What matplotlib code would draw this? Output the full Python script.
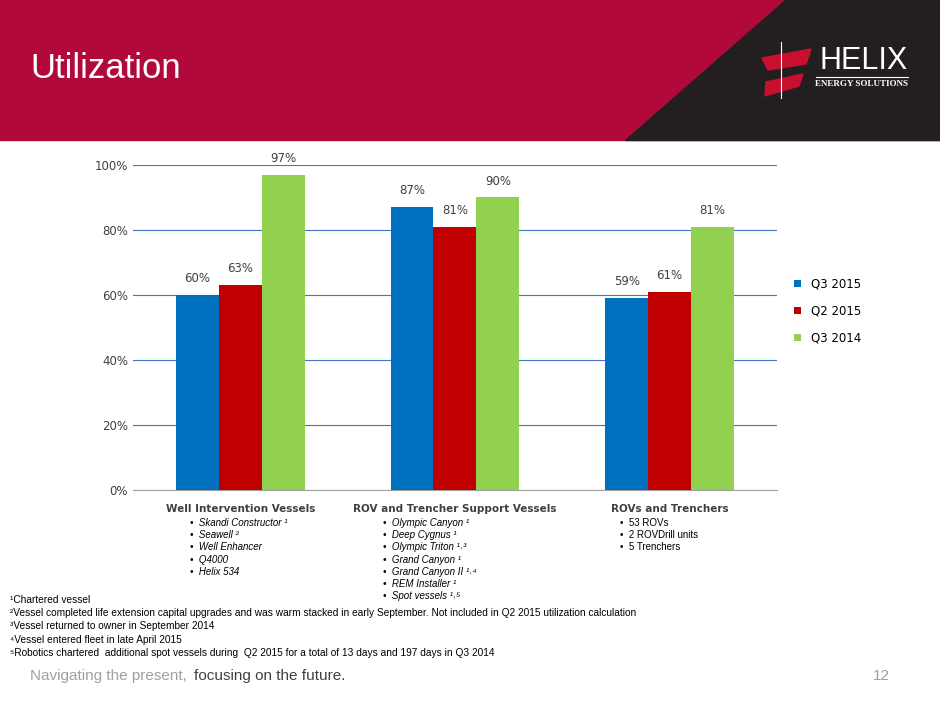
import matplotlib.pyplot as plt
from matplotlib.patches import Polygon, Rectangle
import numpy as np

categories = ["Well Intervention Vessels", "ROV and Trencher Support Vessels", "ROVs and Trenchers"]
series = ["Q3 2015", "Q2 2015", "Q3 2014"]
values = {
    "Q3 2015": [60, 87, 59],
    "Q2 2015": [63, 81, 61],
    "Q3 2014": [97, 90, 81],
}
colors = {"Q3 2015": "#0070C0", "Q2 2015": "#C00000", "Q3 2014": "#92D050"}
yticks = [0, 20, 40, 60, 80, 100]

bullets = [
    ["Skandi Constructor ¹", "Seawell ²", "Well Enhancer", "Q4000", "Helix 534"],
    ["Olympic Canyon ¹", "Deep Cygnus ¹", "Olympic Triton ¹˒³", "Grand Canyon ¹",
     "Grand Canyon II ¹˒⁴", "REM Installer ¹", "Spot vessels ¹˒⁵"],
    ["53 ROVs", "2 ROVDrill units", "5 Trenchers"],
]
italic = [True, True, False]
footnotes = [
    "¹Chartered vessel",
    "²Vessel completed life extension capital upgrades and was warm stacked in early September. Not included in Q2 2015 utilization calculation",
    "³Vessel returned to owner in September 2014",
    "⁴Vessel entered fleet in late April 2015",
    "⁵Robotics chartered  additional spot vessels during  Q2 2015 for a total of 13 days and 197 days in Q3 2014",
]

FAM = ["Liberation Sans", "DejaVu Sans"]
W, H = 940, 705
fig = plt.figure(figsize=(9.4, 7.05), dpi=100)
bg = fig.add_axes([0, 0, 1, 1])
bg.set_xlim(0, W)
bg.set_ylim(H, 0)
bg.axis("off")
bg.add_patch(Rectangle((0, 0), W, 140, color="#B0093A"))
bg.add_patch(Polygon([(785, 0), (W, 0), (W, 140), (625, 140)], color="#231F20"))
bg.text(30, 68, "Utilization", fontsize=25, color="white", va="center", family=FAM)
bg.text(908, 76, "HELIX", fontsize=22, color="white", ha="right", va="bottom", family=FAM)
bg.plot([816, 908], [77, 77], color="white", lw=0.8)
bg.text(908, 84, "ENERGY SOLUTIONS", fontsize=6.5, color="white", ha="right", va="center",
        weight="bold", family="Liberation Serif")
bg.plot([781, 781], [42, 98], color="white", lw=0.8)
bg.add_patch(Polygon([(762, 58), (811, 49), (806, 64), (768, 70)], color="#C8102E"))
bg.add_patch(Polygon([(766, 82), (803, 74), (799, 86), (765, 96)], color="#C8102E"))

ax = fig.add_axes([0.1415, 0.305, 0.685, 0.461])
x = np.arange(len(categories))
bw = 0.2
for i, s in enumerate(series):
    pos = x + (i - 1) * bw
    ax.bar(pos, values[s], width=bw, color=colors[s], label=s, zorder=3)
    for px, v in zip(pos, values[s]):
        ax.text(px, v + 3, f"{v}%", ha="center", va="bottom", fontsize=8.5, color="#404040")
ax.set_xlim(-0.5, 2.5)
ax.set_ylim(0, 100)
ax.set_yticks(yticks)
ax.set_yticklabels([f"{t}%" for t in yticks], fontsize=8.5, color="#404040")
ax.set_xticks(x)
ax.set_xticklabels(categories, fontsize=7.5, weight="bold", color="#404040")
ax.tick_params(axis="x", length=0, pad=10)
ax.tick_params(axis="y", length=0)
ax.grid(axis="y", color="#4472C4", lw=0.8, zorder=0)
for sp in ["top", "right", "left"]:
    ax.spines[sp].set_visible(False)
ax.spines["bottom"].set_color("#A0A0A0")
ax.legend(loc="center left", bbox_to_anchor=(1.01, 0.55), frameon=False, fontsize=8.5,
          handlelength=0.6, handleheight=0.6, labelspacing=1.2)

bx = [190, 383, 620]
for j, items in enumerate(bullets):
    for k, t in enumerate(items):
        bg.text(bx[j], 523 + k * 12.2, "•  " + t, fontsize=7, va="center",
                style="italic" if italic[j] else "normal", family=FAM)

for k, t in enumerate(footnotes):
    bg.text(10, 600 + k * 13.2, t, fontsize=7.3, va="center", family=FAM)

bg.text(30, 676, "Navigating the present,", fontsize=11, color="#A0A0A0", va="center", family=FAM)
bg.text(194, 676, "focusing on the future.", fontsize=11, color="#404040", va="center", family=FAM)
bg.text(890, 676, "12", fontsize=11, color="#A0A0A0", va="center", ha="right", family=FAM)

fig.savefig("out.png", dpi=100)
